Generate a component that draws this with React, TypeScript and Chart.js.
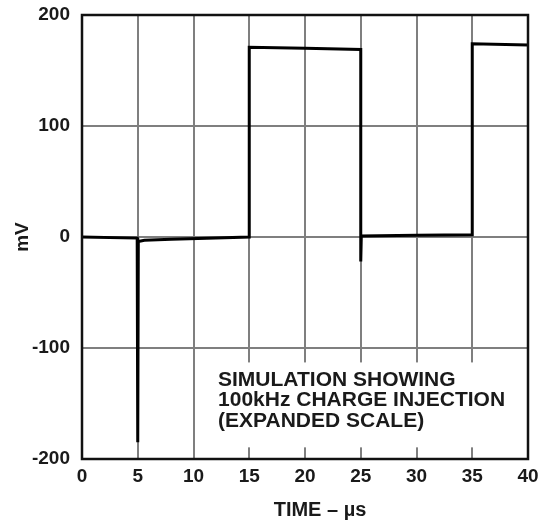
import React, { useEffect, useRef } from "react";
import { Chart, registerables } from "chart.js";

Chart.register(...registerables);

// Waveform (time in µs, value in mV)
const timeUs = [0, 4.95, 5, 5.05, 5.6, 8, 12, 15, 15, 20, 25, 25, 25.05, 30, 35, 35, 40];
const millivolts = [0, -1, -185, -4, -3, -2, -1, 0, 171, 170, 169, -22, 1, 1.5, 2, 174, 173];

const xMin = 0;
const xMax = 40;
const xStep = 5;
const yMin = -200;
const yMax = 200;
const yStep = 100;

const xTitle = "TIME – µs";
const yTitle = "mV";
const captionLines = ["SIMULATION SHOWING", "100kHz CHARGE INJECTION", "(EXPANDED SCALE)"];

const FONT = "'Liberation Sans', Arial, sans-serif";

const overlayPlugin = {
  id: "overlay",
  beforeDatasetsDraw(chart: any) {
    const { ctx, chartArea } = chart;
    const xs = chart.scales.x;
    const ys = chart.scales.y;
    ctx.save();
    // white caption box covering grid lines
    const left = xs.getPixelForValue(11.0);
    const top = ys.getPixelForValue(-113);
    const bottom = ys.getPixelForValue(-189.5);
    ctx.fillStyle = "#ffffff";
    ctx.fillRect(left, top, chartArea.right - left, bottom - top);
    // caption text
    ctx.fillStyle = "#1a1a1a";
    ctx.font = `bold 21px ${FONT}`;
    ctx.textAlign = "left";
    ctx.textBaseline = "alphabetic";
    const tx = xs.getPixelForValue(12.2);
    const baseY = ys.getPixelForValue(-134);
    captionLines.forEach((line, i) => {
      ctx.fillText(line, tx, baseY + i * 20.5);
    });
    ctx.restore();
  },
  afterDatasetsDraw(chart: any) {
    const { ctx, chartArea } = chart;
    ctx.save();
    ctx.strokeStyle = "#111";
    ctx.lineWidth = 2.5;
    ctx.strokeRect(chartArea.left, chartArea.top, chartArea.right - chartArea.left, chartArea.bottom - chartArea.top);
    // x-axis title
    ctx.fillStyle = "#1a1a1a";
    ctx.font = `bold 20px ${FONT}`;
    ctx.textAlign = "center";
    ctx.textBaseline = "alphabetic";
    ctx.fillText(xTitle, (chartArea.left + chartArea.right) / 2 + 15, 516);
    ctx.restore();
  },
};

export default function App() {
  const canvasRef = useRef<HTMLCanvasElement | null>(null);

  useEffect(() => {
    const canvas = canvasRef.current;
    if (!canvas) return;
    const points = timeUs.map((t, i) => ({ x: t, y: millivolts[i] }));
    const chart = new Chart(canvas, {
      type: "line",
      data: {
        datasets: [
          {
            data: points,
            borderColor: "#000",
            borderWidth: 3,
            pointRadius: 0,
            tension: 0,
            fill: false,
          },
        ],
      },
      options: {
        responsive: false,
        animation: false,
        devicePixelRatio: 1,
        layout: { padding: { left: 0, top: 15, right: 14, bottom: 0 } },
        plugins: { legend: { display: false }, tooltip: { enabled: false } },
        scales: {
          x: {
            type: "linear",
            min: xMin,
            max: xMax,
            ticks: {
              stepSize: xStep,
              padding: 6,
              color: "#1a1a1a",
              font: { family: FONT, size: 19, weight: "bold" },
              maxRotation: 0,
            },
            grid: { color: "#7f7f7f", lineWidth: 2, drawTicks: false },
            border: { display: false },
            afterFit: (s: any) => {
              s.height = 62;
              s.paddingLeft = 0;
              s.paddingRight = 0;
            },
          },
          y: {
            min: yMin,
            max: yMax,
            ticks: {
              stepSize: yStep,
              padding: 12,
              color: "#1a1a1a",
              font: { family: FONT, size: 19, weight: "bold" },
            },
            grid: { color: "#7f7f7f", lineWidth: 2, drawTicks: false },
            border: { display: false },
            title: {
              display: true,
              text: yTitle,
              color: "#1a1a1a",
              font: { family: FONT, size: 19, weight: "bold" },
              padding: { top: 11, bottom: 0 },
            },
            afterFit: (s: any) => {
              s.width = 82;
              s.paddingTop = 0;
              s.paddingBottom = 0;
            },
          },
        },
      },
      plugins: [overlayPlugin],
    });
    return () => chart.destroy();
  }, []);

  return (
    <div style={{ position: "fixed", left: 0, top: 0, width: 542, height: 521, background: "#fff" }}>
      <canvas ref={canvasRef} width={542} height={521} />
    </div>
  );
}
